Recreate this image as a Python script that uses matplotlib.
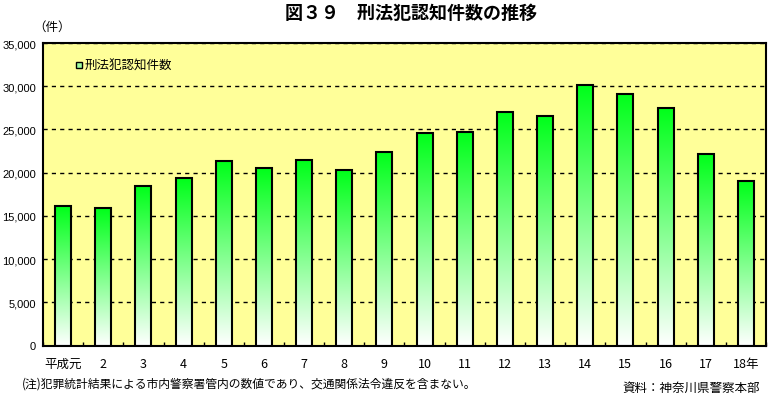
import matplotlib
matplotlib.use("Agg")
import matplotlib.pyplot as plt
import numpy as np
from matplotlib.colors import LinearSegmentedColormap
from matplotlib.ticker import FuncFormatter, MultipleLocator

plt.rcParams['font.family'] = ['Noto Sans CJK JP', 'DejaVu Sans']

# data
years = ['平成元', '2', '3', '4', '5', '6', '7', '8', '9', '10',
         '11', '12', '13', '14', '15', '16', '17', '18年']
counts = [16100, 15950, 18500, 19430, 21290, 20480, 21440, 20360, 22440,
          24530, 24760, 26960, 26500, 30090, 29050, 27430, 22100, 19090]

fig = plt.figure(figsize=(7.73, 4.02), dpi=100)
ax = fig.add_axes([43/773, 1-346.5/402, (766-43)/773, (346.5-44)/402])
ax.set_facecolor('#FFFF99')

cmap = LinearSegmentedColormap.from_list('g', ['#FFFFFF', '#00FF1A'])
grad = np.linspace(1, 0, 256).reshape(-1, 1)

x = np.arange(len(years))
w = 0.4
bars = ax.bar(x, counts, width=w, facecolor='none', edgecolor='black',
              linewidth=1.5, zorder=3)
for b in bars:
    x0 = b.get_x()
    im = ax.imshow(grad, cmap=cmap, aspect='auto', zorder=2,
                   extent=[x0, x0 + b.get_width(), 0, b.get_height()])
    im.set_clip_path(b)

ax.set_xlim(-0.5, len(years) - 0.5)
ax.set_ylim(0, 35000)
ax.yaxis.set_major_locator(MultipleLocator(5000))
ax.yaxis.set_major_formatter(FuncFormatter(lambda v, p: f'{int(v):,}'))
ax.grid(axis='y', color='black', linestyle=(0, (3, 3)), linewidth=1, zorder=1)
ax.set_axisbelow(True)

ax.set_xticks(x)
ax.set_xticklabels(years)
ax.set_xticks(np.arange(len(years) + 1) - 0.5, minor=True)
ax.tick_params(axis='x', which='major', length=0, pad=8, labelsize=9)
ax.tick_params(axis='x', which='minor', direction='in', length=3, width=1)
ax.tick_params(axis='y', length=0, pad=5, labelsize=8,
               labelfontfamily='Liberation Sans')
for s in ax.spines.values():
    s.set_linewidth(1.5)

# legend
lx, ly = 76/773, 1-66/402
fig.patches.append(plt.Rectangle((lx, ly - 3/402), 6/773, 6/402,
                                 transform=fig.transFigure, facecolor='#A0FFA0',
                                 edgecolor='black', linewidth=1))
fig.text(85/773, ly, '刑法犯認知件数', fontsize=9, va='center')

fig.text(411/773, 1-13/402, '図３９　刑法犯認知件数の推移', fontsize=13,
         fontweight='bold', ha='center', va='center')
fig.text(33/773, 1-27/402, '（件）', fontsize=9, va='center')
fig.text(22/773, 1-384/402,
         '(注)犯罪統計結果による市内警察署管内の数値であり、交通関係法令違反を含まない。',
         fontsize=8.5, va='center')
fig.text(622/773, 1-388/402, '資料：神奈川県警察本部', fontsize=9, va='center')

fig.savefig('out.png', dpi=100)
